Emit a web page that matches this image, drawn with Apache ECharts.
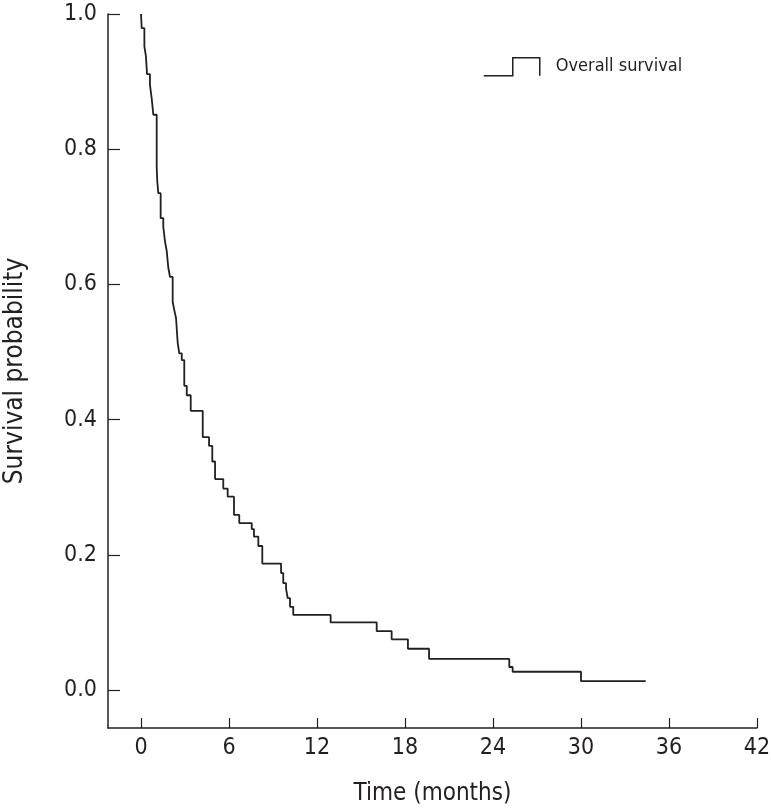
<!DOCTYPE html>
<html>
<head>
<meta charset="utf-8">
<script src="https://cdn.jsdelivr.net/npm/echarts@6/dist/echarts.min.js"></script>
<style>html,body{margin:0;padding:0;background:#fff}#chart{width:771px;height:810px}</style>
</head>
<body>
<div id="chart"></div>
<script>
// Kaplan-Meier step points: time (months) at which survival drops, and new survival value
const times = [0, 0.05, 0.23, 0.34, 0.41, 0.61, 0.73, 0.84, 1.07, 1.11, 1.18, 1.34, 1.52, 1.64, 1.75, 1.86, 1.98,
  2.16, 2.27, 2.39, 2.50, 2.61, 2.78, 2.95, 3.12, 3.39, 4.21, 4.64, 4.86, 5.05, 5.61, 5.91, 6.34, 6.70,
  7.55, 7.70, 8.00, 8.27, 9.55, 9.70, 9.89, 10.00, 10.16, 10.38, 12.93, 16.07, 17.09, 18.2, 19.64,
  25.11, 25.34, 30.0, 34.41];
const survival = [1.0, 0.979, 0.952, 0.937, 0.911, 0.895, 0.875, 0.851, 0.774, 0.752, 0.735, 0.698, 0.685, 0.663, 0.650, 0.625, 0.611,
  0.574, 0.562, 0.550, 0.514, 0.498, 0.488, 0.450, 0.436, 0.413, 0.374, 0.361, 0.338, 0.312, 0.298, 0.286, 0.259, 0.247,
  0.238, 0.227, 0.213, 0.187, 0.173, 0.158, 0.150, 0.136, 0.123, 0.111, 0.100, 0.087, 0.075, 0.061, 0.046,
  0.034, 0.027, 0.013, 0.013];
const xTicks = [0, 6, 12, 18, 24, 30, 36, 42];
const yTicks = [0, 0.2, 0.4, 0.6, 0.8, 1.0];
const seriesName = 'Overall survival';

const ink = '#231f20';
const font = '"DejaVu Sans Condensed", "Liberation Sans", sans-serif';

const chart = echarts.init(document.getElementById('chart'), null, {renderer: 'canvas'});
chart.setOption({
  animation: false,
  backgroundColor: '#fff',
  textStyle: {fontFamily: font, color: ink},
  grid: {left: 108, right: 14, top: 14, bottom: 82, containLabel: false, outerBoundsMode: 'none'},
  legend: {
    left: 478, top: 52,
    itemWidth: 56, itemHeight: 18,
    data: [{name: seriesName, icon: 'path://M0,18 L29,18 L29,0 L56,0 L56,18'}],
    itemStyle: {color: 'rgba(0,0,0,0)', borderColor: ink, borderWidth: 1.5},
    textStyle: {fontFamily: font, fontSize: 18, color: ink, padding: [0, 0, 0, 11]}
  },
  xAxis: {
    type: 'value', min: -2.25, max: 42,
    name: 'Time (months)', nameLocation: 'middle', nameGap: 54,
    nameTextStyle: {fontFamily: font, fontSize: 24, color: ink},
    axisLine: {show: true, onZero: false, lineStyle: {color: ink, width: 1.5}},
    axisTick: {show: true, inside: true, length: 10, customValues: xTicks, lineStyle: {color: ink, width: 1.2}},
    axisLabel: {customValues: xTicks, margin: 9, fontFamily: font, fontSize: 23, color: ink},
    splitLine: {show: false}
  },
  yAxis: {
    type: 'value', min: -0.0562, max: 1.0,
    name: 'Survival probability', nameLocation: 'middle', nameGap: 80,
    nameTextStyle: {fontFamily: font, fontSize: 26, color: ink},
    axisLine: {show: true, onZero: false, lineStyle: {color: ink, width: 1.5}},
    axisTick: {show: true, inside: true, length: 12, customValues: yTicks, lineStyle: {color: ink, width: 1.2}},
    axisLabel: {customValues: yTicks, margin: 11, fontFamily: font, fontSize: 23, color: ink,
      formatter: v => v.toFixed(1)},
    splitLine: {show: false}
  },
  series: [{
    name: seriesName,
    type: 'line',
    step: 'end',
    symbol: 'none',
    lineStyle: {color: ink, width: 1.8},
    itemStyle: {color: ink},
    data: times.map((t, i) => [t, survival[i]])
  }]
});
</script>
</body>
</html>
